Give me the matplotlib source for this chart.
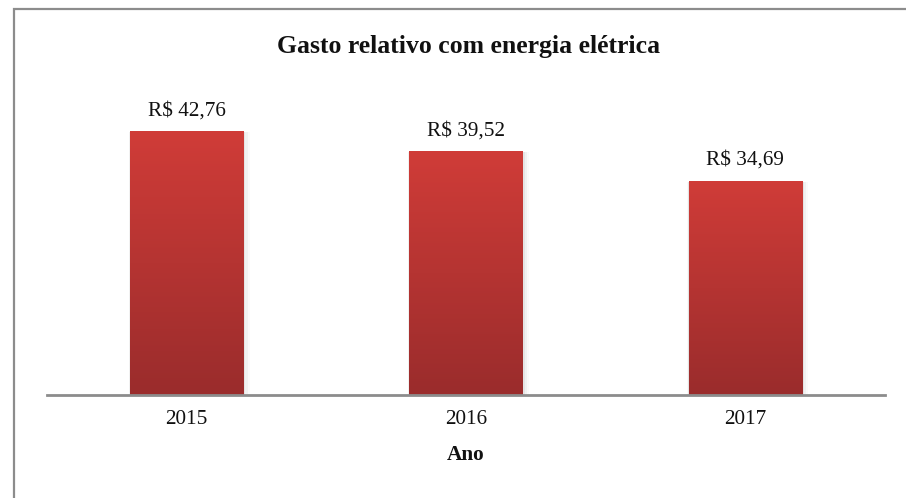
import numpy as np
import matplotlib
matplotlib.use("Agg")
import matplotlib.pyplot as plt
from matplotlib.patches import Rectangle
from matplotlib.colors import LinearSegmentedColormap

years = ["2015", "2016", "2017"]
values = [42.76, 39.52, 34.69]
labels = ["R$ 42,76", "R$ 39,52", "R$ 34,69"]
title = "Gasto relativo com energia elétrica"
xlabel = "Ano"

plt.rcParams['font.family'] = ['Liberation Serif', 'DejaVu Serif']

fig = plt.figure(figsize=(9.06, 4.98), dpi=100)
fig.patch.set_facecolor('white')

# outer chart border (cut off at right and bottom)
fig.patches.append(Rectangle((14/906, -0.1), 1.2, 1.1 - 9/498,
                             transform=fig.transFigure, fill=False,
                             edgecolor='#8c8c8c', lw=1.6, zorder=0))

ax = fig.add_axes([47/906, 103/498, 838/906, 308.5/498])
x = np.arange(len(years))
bars = ax.bar(x, values, width=0.405, color='none', edgecolor='none', zorder=2)

cmap = LinearSegmentedColormap.from_list('g', ['#9a2c2c', '#d03c38'])
grad = np.linspace(0, 1, 256).reshape(-1, 1)
for b in bars:
    bx, bw, bh = b.get_x(), b.get_width(), b.get_height()
    # soft shadow
    for k, a in enumerate([0.05, 0.035, 0.02]):
        off = 0.006 * (k + 1)
        ax.add_patch(Rectangle((bx - off * 0.3, -0.3), bw + off * 1.6, bh + 0.2,
                               facecolor='#000000', alpha=a, edgecolor='none', zorder=1))
    im = ax.imshow(grad, extent=[bx, bx + bw, 0, bh], origin='lower',
                   cmap=cmap, aspect='auto', zorder=3, interpolation='bicubic')
    im.set_clip_path(b)

for xi, v, lab in zip(x, values, labels):
    ax.annotate(lab, (xi, v), xytext=(0, 8), textcoords='offset points',
                ha='center', va='bottom', fontsize=15.3, color='#111111')

ax.set_xlim(-0.5, 2.5)
ax.set_ylim(0, 50)
ax.set_xticks(x)
ax.set_xticklabels(years, fontsize=15.3, color='#111111')
ax.tick_params(axis='x', length=0, pad=11)
ax.set_yticks([])
for s in ['top', 'right', 'left']:
    ax.spines[s].set_visible(False)
ax.spines['bottom'].set_color('#8c8c8c')
ax.spines['bottom'].set_linewidth(2)
ax.spines['bottom'].set_zorder(4)
ax.set_xlabel(xlabel, fontsize=15.3, fontweight='bold', labelpad=11, color='#111111')
ax.set_facecolor('none')

fig.text(469/906, 1 - 46/498, title, ha='center', va='center',
         fontsize=18.5, fontweight='bold', color='#111111')

fig.savefig('out.png', dpi=100)
